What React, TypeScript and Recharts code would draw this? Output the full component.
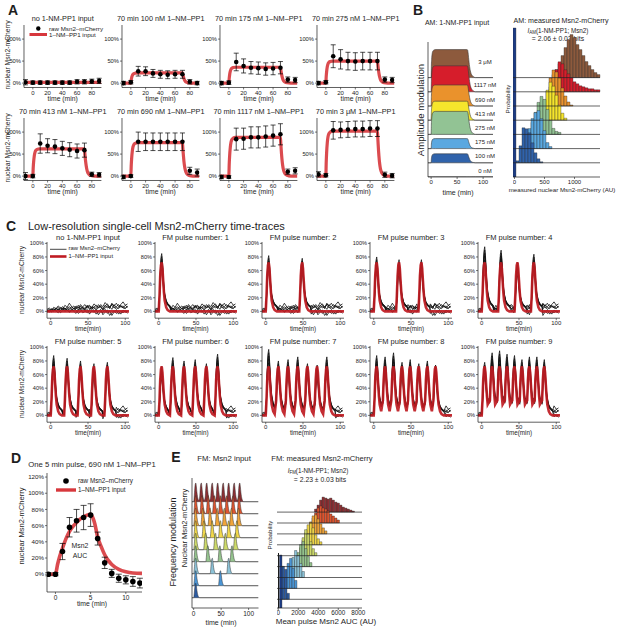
import React from "react"
import {
  ComposedChart,
  Line,
  Area,
  Bar,
  Scatter,
  XAxis,
  YAxis,
  ErrorBar,
  ReferenceLine,
} from "recharts"

const FONT = "'Liberation Sans', Arial, sans-serif"
const INK = "#1b1b1b"
const RED = "#d7373c"
const CRIMSON = "#bf1b22"

// ---------- A: amplitude modulation, population means ----------
const AM_TITLES = [
  "no 1-NM-PP1 input",
  "70 min 100 nM 1–NM–PP1",
  "70 min 175 nM 1–NM–PP1",
  "70 min 275 nM 1–NM–PP1",
  "70 min 413 nM 1–NM–PP1",
  "70 min 690 nM 1–NM–PP1",
  "70 min 1117 nM 1–NM–PP1",
  "70 min 3 μM 1–NM–PP1",
]
const AM_TIMES = [-10, 0, 10, 20, 30, 40, 50, 60, 70, 80, 90]
const AM_MEAN_0 = [2, 1, 1, 1, 1, 1, 1, 3, 3, 4, 5]
const AM_ERR_0 = [6, 4, 4, 4, 4, 4, 4, 5, 5, 5, 6]
const AM_MEAN_100 = [0, 2, 27, 27, 22, 20, 19, 20, 20, 3, 0]
const AM_ERR_100 = [4, 4, 11, 10, 9, 9, 9, 9, 9, 5, 4]
const AM_MEAN_175 = [0, 1, 48, 39, 35, 34, 32, 33, 35, 8, 7]
const AM_ERR_175 = [4, 4, 20, 16, 14, 14, 14, 14, 14, 6, 6]
const AM_MEAN_275 = [0, 2, 61, 54, 50, 49, 50, 50, 50, 8, 7]
const AM_ERR_275 = [4, 4, 26, 22, 20, 20, 20, 20, 20, 6, 6]
const AM_MEAN_413 = [0, 0, 74, 69, 67, 63, 60, 57, 59, 4, 3]
const AM_ERR_413 = [8, 4, 22, 16, 16, 16, 16, 16, 16, 5, 5]
const AM_MEAN_690 = [-2, 0, 78, 78, 78, 78, 78, 78, 78, 12, 8]
const AM_ERR_690 = [4, 3, 22, 20, 20, 20, 20, 20, 20, 8, 8]
const AM_MEAN_1117 = [-2, -2, 84, 85, 88, 88, 90, 92, 95, 10, 12]
const AM_ERR_1117 = [4, 3, 25, 24, 24, 24, 24, 24, 24, 6, 7]
const AM_MEAN_3000 = [4, 2, 104, 105, 106, 107, 107, 108, 108, 3, 1]
const AM_ERR_3000 = [6, 4, 20, 18, 18, 18, 18, 18, 18, 6, 5]
const AM_MEANS = [AM_MEAN_0, AM_MEAN_100, AM_MEAN_175, AM_MEAN_275, AM_MEAN_413, AM_MEAN_690, AM_MEAN_1117, AM_MEAN_3000]
const AM_ERRS = [AM_ERR_0, AM_ERR_100, AM_ERR_175, AM_ERR_275, AM_ERR_413, AM_ERR_690, AM_ERR_1117, AM_ERR_3000]
const AM_LEVELS = [0, 23, 36, 50, 62, 76, 88, 102]
const AM_FLOOR = [1.5, 0, 0, 0, 0, 0, 0, 0]
const AM_PROFILE_T = [-12, 0, 0.5, 1, 2, 3, 4, 6, 9, 70, 70.5, 71, 72, 73, 74, 76, 79, 84, 93]
const AM_PROFILE_F = [0, 0, 0.3, 0.5, 0.75, 0.88, 0.94, 0.98, 1, 1, 0.85, 0.7, 0.45, 0.28, 0.17, 0.07, 0.02, 0, 0]

// ---------- B: AM input shapes and measured histograms ----------
const B_LABELS = ["0 nM", "100 nM", "175 nM", "275 nM", "413 nM", "690 nM", "1117 nM", "3 μM"]
const B_COLORS = ["#1c3c85", "#3063ab", "#5aa8e0", "#92c394", "#f6e52c", "#ea922c", "#d61d2b", "#8d5a3d"]
const B_HEIGHTS = [0, 9, 10, 23, 19, 21, 26, 28]
const B_STEP = 14.2
const B_PROFILE_T = [-6, 0, 0.5, 1, 2, 3, 5, 8, 68, 70, 71, 72, 74, 76, 78, 81, 85, 119]
const B_PROFILE_F = [0, 0, 0.45, 0.65, 0.85, 0.93, 0.98, 1, 1, 0.99, 0.9, 0.72, 0.4, 0.2, 0.1, 0.04, 0, 0]
const B_BINS = Array.from({ length: 29 }, (_, i) => i * 50)
const B_HIST_START = [0, 50, 200, 250, 400, 500, 600, 650]
const B_HIST_0 = [149]
const B_HIST_1 = [2, 17, 35, 34, 30, 20, 10, 4, 1]
const B_HIST_2 = [8, 20, 30, 36, 38, 30, 18, 6, 2]
const B_HIST_3 = [4, 12, 22, 32, 38, 35, 25, 14, 6, 3, 2]
const B_HIST_4 = [3, 10, 20, 30, 38, 34, 25, 15, 7, 2]
const B_HIST_5 = [5, 15, 28, 36, 34, 28, 18, 10, 4, 1]
const B_HIST_6 = [5, 12, 22, 30, 28, 22, 18, 14, 10, 8, 6, 5, 4, 3, 3, 2, 2]
const B_HIST_7 = [3, 8, 14, 22, 30, 38, 43, 40, 33, 28, 22, 16, 12, 8, 5, 3]
const B_HISTS = [B_HIST_0, B_HIST_1, B_HIST_2, B_HIST_3, B_HIST_4, B_HIST_5, B_HIST_6, B_HIST_7]

// ---------- C: FM single-cell traces ----------
const FM_TITLES = [
  "no 1-NM-PP1 input",
  "FM pulse number: 1",
  "FM pulse number: 2",
  "FM pulse number: 3",
  "FM pulse number: 4",
  "FM pulse number: 5",
  "FM pulse number: 6",
  "FM pulse number: 7",
  "FM pulse number: 8",
  "FM pulse number: 9",
]
const FM_PULSES_1 = [0]
const FM_PULSES_2 = [0, 45]
const FM_PULSES_3 = [0, 30, 60]
const FM_PULSES_4 = [0, 22, 44, 66]
const FM_PULSES_5 = [0, 18, 36, 54, 72]
const FM_PULSES_6 = [0, 15, 30, 45, 60, 75]
const FM_PULSES_7 = [0, 13, 26, 39, 52, 65, 78]
const FM_PULSES_8 = [0, 11.3, 22.6, 34, 45, 56.5, 68, 79]
const FM_PULSES_9 = [0, 10, 20, 30, 40, 50, 60, 70, 80]
const FM_PULSES = [[], FM_PULSES_1, FM_PULSES_2, FM_PULSES_3, FM_PULSES_4, FM_PULSES_5, FM_PULSES_6, FM_PULSES_7, FM_PULSES_8, FM_PULSES_9]
const FM_PEAKS_1 = [85]
const FM_PEAKS_2 = [82, 78]
const FM_PEAKS_3 = [80, 76, 76]
const FM_PEAKS_4 = [95, 90, 72, 84]
const FM_PEAKS_5 = [88, 84, 80, 76, 78]
const FM_PEAKS_6 = [72, 85, 80, 82, 76, 90]
const FM_PEAKS_7 = [97, 80, 82, 86, 76, 74, 86]
const FM_PEAKS_8 = [88, 86, 92, 78, 82, 76, 80, 74]
const FM_PEAKS_9 = [78, 92, 95, 90, 88, 82, 86, 86, 82]
const FM_PEAKS = [[], FM_PEAKS_1, FM_PEAKS_2, FM_PEAKS_3, FM_PEAKS_4, FM_PEAKS_5, FM_PEAKS_6, FM_PEAKS_7, FM_PEAKS_8, FM_PEAKS_9]
const PULSE_T = [0, 1, 2, 3, 4, 5, 6, 7, 8, 10, 12, 15]
const RED_PULSE = [0, 22, 52, 68, 72, 63, 45, 28, 16, 6, 2, 0]
const CELL_PULSE = [0.02, 0.27, 0.68, 0.93, 1, 0.86, 0.62, 0.43, 0.31, 0.19, 0.14, 0.1]
const CELL_SCALE = [1, 0.9, 0.8, 0.86, 0.95, 0.74]
const NOISE_T = Array.from({ length: 37 }, (_, i) => -5 + i * 3)
const NOISE_A = [1, 3, 0, 2, 5, 2, 4, 7, 3, 6, 2, 5, 8, 4, 6, 3, 7, 10, 5, 8, 4, 6, 9, 5, 7, 3, 8, 11, 6, 9, 5, 7, 10, 6, 8, 5, 7]
const NOISE_B = [2, 0, 4, 1, 3, 6, 1, 5, 2, 4, 7, 3, 1, 5, 9, 4, 6, 2, 8, 5, 3, 7, 4, 10, 6, 2, 5, 8, 4, 12, 7, 3, 6, 9, 5, 4, 8]
const NOISE_C = [0, 2, -1, 3, 1, -2, 2, 4, 0, 3, -1, 1, 5, 2, -3, 0, 4, 1, -2, 2, 6, 1, -4, 0, 3, -5, -1, 2, -6, -2, 1, -3, 0, -4, 2, -1, 0]
const NOISE_D = [3, 5, 2, 6, 4, 8, 5, 3, 9, 6, 12, 7, 4, 8, 5, 10, 6, 3, 7, 9, 5, 11, 8, 6, 10, 7, 13, 9, 6, 11, 8, 12, 7, 10, 14, 9, 11]
const NOISE_E = [2, 1, 3, 0, 4, 2, 6, 3, 5, 1, 4, 7, 3, 6, 2, 8, 4, 5, 9, 3, 7, 5, 2, 6, 8, 4, 9, 5, 7, 3, 10, 6, 4, 8, 5, 9, 6]
const NOISE_F = [1, -1, 2, 4, 0, 3, -2, 1, 5, 2, -1, 3, 0, -3, 2, 4, -2, 0, 3, -4, 1, -1, 2, -5, 0, -2, 3, -3, 1, -6, -1, 2, -4, 0, -2, 1, -3]
const NOISES = [NOISE_A, NOISE_B, NOISE_C, NOISE_D, NOISE_E, NOISE_F]

// ---------- D: single 5 min pulse ----------
const D_TIMES = [-1, 0, 1, 2, 3, 4, 5, 6, 7, 8, 9, 10, 11, 12]
const D_MEAN = [0, 0, 28, 58, 66, 70, 73, 44, 14, 1, -5, -7, -9, -11]
const D_ERR = [2, 2, 10, 12, 14, 15, 14, 8, 7, 5, 5, 5, 6, 6]
const D_LINE_T = [-1.2, 0, 0.3, 0.6, 1, 1.5, 2, 2.5, 3, 3.5, 4, 4.5, 5, 5.3, 5.6, 6, 6.5, 7, 7.5, 8, 9, 10, 11, 12.3]
const D_LINE = [0, 0, 12, 22, 32, 44, 53, 59, 64, 68, 71, 73, 74, 70, 62, 46, 34, 24, 17, 12, 6, 3, 1.5, 1]

// ---------- E: FM input shapes and measured AUC histograms ----------
const E_COLORS = ["#2c5aa0", "#4a95d5", "#8cc3d8", "#95c48e", "#cdda6a", "#f1d84a", "#f1a53a", "#e0552f", "#8e2f33"]
const E_PEAK_H = [14.5, 15, 15.5, 16, 16.5, 17, 17.5, 18, 18.7]
const E_PULSE_T = [0, 1, 2, 3, 4, 5, 6, 7, 8, 9, 11]
const E_PULSE_F = [0, 0.25, 0.7, 0.95, 1, 0.8, 0.5, 0.28, 0.14, 0.06, 0]
const E_BINS = Array.from({ length: 34 }, (_, i) => i * 250)
const E_HIST_START = [250, 500, 750, 1250, 1750, 2250, 2500, 3000, 3500, 3750]
const E_HIST_0 = [53]
const E_HIST_1 = [33, 30, 6]
const E_HIST_2 = [10, 25, 30, 20, 8]
const E_HIST_3 = [10, 20, 27, 22, 14, 6]
const E_HIST_4 = [6, 14, 22, 25, 18, 10, 4]
const E_HIST_5 = [8, 18, 26, 22, 14, 7, 3]
const E_HIST_6 = [5, 12, 20, 22, 17, 10, 6, 3]
const E_HIST_7 = [5, 12, 18, 19, 15, 10, 6, 3]
const E_HIST_8 = [5, 10, 15, 17, 15, 14, 12, 9, 7, 5, 3]
const E_HIST_9 = [3, 7, 12, 15, 14, 13, 14, 12, 10, 9, 7, 5, 4, 3, 2, 1]
const E_HISTS = [E_HIST_0, E_HIST_1, E_HIST_2, E_HIST_3, E_HIST_4, E_HIST_5, E_HIST_6, E_HIST_7, E_HIST_8, E_HIST_9]

const eBase = (k: number) => 10.3 + 12 * (k - 1)
const eHBase = (k: number) => (k === 0 ? 0 : 8.7 + 10.9 * (k - 1))

// ---------- helpers ----------
const pct = (v: number) => `${v}%`
const dotShape = (r: number) => (p: any) => <circle cx={p.cx} cy={p.cy} r={r} fill="#000" />

const axisStyle = (fs: number) => ({
  axisLine: { stroke: INK, strokeWidth: 0.7 },
  tickLine: { stroke: INK, strokeWidth: 0.6 },
  tickSize: 2,
  tickMargin: 1,
  tick: { fontSize: fs, fill: INK, fontFamily: FONT },
})

function mergeSeries(series: { key: string; pts: [number, any][] }[]) {
  const map = new Map<number, any>()
  series.forEach(({ key, pts }) =>
    pts.forEach(([t, v]) => {
      const k = Math.round(t * 1000) / 1000
      if (!map.has(k)) map.set(k, { t: k })
      map.get(k)[key] = v
    })
  )
  return [...map.values()].sort((a, b) => a.t - b.t)
}

function pulsePoints(starts: number[], offs: number[], vals: number[], scale: (i: number) => number) {
  const pts: [number, number][] = []
  const span = offs[offs.length - 1]
  starts.forEach((p, i) => {
    const next = i + 1 < starts.length ? starts[i + 1] : Infinity
    const prev = i > 0 ? starts[i - 1] : -Infinity
    offs.forEach((o, j) => {
      if (j === 0 && p - prev < span) return
      if (p + o < next) pts.push([p + o, vals[j] * scale(i)])
    })
  })
  return pts
}

function Txt({ x, y, s = 7, a = "c", rot = false, b = false, children }: any) {
  const tx = a === "c" ? "-50%" : a === "r" ? "-100%" : "0"
  return (
    <div
      style={{
        position: "absolute",
        left: x,
        top: y,
        fontSize: s,
        fontWeight: b ? 700 : 400,
        color: "#1e1e1e",
        whiteSpace: "nowrap",
        lineHeight: 1,
        transform: `translate(${tx}, -50%)${rot ? " rotate(-90deg)" : ""}`,
      }}
    >
      {children}
    </div>
  )
}

function Frame({ x, y, w, h, yw, xh, data, extra, children }: any) {
  const mt = 5
  const mr = 5
  return (
    <div style={{ position: "absolute", left: x - yw, top: y - mt }}>
      <ComposedChart
        width={w + yw + mr}
        height={h + xh + mt}
        data={data}
        margin={{ top: mt, right: mr, bottom: 0, left: 0 }}
        {...extra}
      >
        {children}
      </ComposedChart>
    </div>
  )
}

// ---------- panel A ----------
const A_LEFT = [24, 122, 220, 317]
const A_TOP = [25, 118]

function AmPlot({ i }: { i: number }) {
  const x = A_LEFT[i % 4]
  const y = A_TOP[Math.floor(i / 4)]
  const w = 77.4
  const h = 62.5
  const red = AM_PROFILE_T.map((t, j) => ({ t, r: AM_FLOOR[i] + AM_LEVELS[i] * AM_PROFILE_F[j] }))
  const dots = AM_TIMES.map((t, j) => ({ t, m: AM_MEANS[i][j], e: AM_ERRS[i][j] }))
  return (
    <>
      <Txt x={x + w / 2} y={y - 6} s={7.3}>{AM_TITLES[i]}</Txt>
      <Frame x={x} y={y} w={w} h={h} yw={20} xh={10} data={red}>
        <XAxis type="number" dataKey="t" domain={[-12, 93]} ticks={[0, 20, 40, 60, 80]} allowDataOverflow height={10} {...axisStyle(6)} />
        <YAxis type="number" domain={[-10, 132]} ticks={[0, 50, 100]} tickFormatter={pct} allowDataOverflow width={20} {...axisStyle(5.8)} />
        <Line dataKey="r" type="monotone" stroke={RED} strokeWidth={3.2} strokeOpacity={0.9} dot={false} isAnimationActive={false} />
        <Scatter data={dots} dataKey="m" shape={dotShape(2.3)} isAnimationActive={false}>
          <ErrorBar dataKey="e" direction="y" width={2.5} stroke="#000" strokeWidth={0.7} />
        </Scatter>
      </Frame>
      <Txt x={x + w / 2} y={y + h + 11.5} s={6.8}>time (min)</Txt>
    </>
  )
}

// ---------- panel B ----------
function PanelB() {
  const left = B_PROFILE_T.map((t, j) => {
    const row: any = { t }
    B_HEIGHTS.forEach((hh, k) => {
      row["a" + k] = [k * B_STEP, k * B_STEP + hh * B_PROFILE_F[j]]
    })
    return row
  })
  const right = B_BINS.map((bin) => {
    const row: any = { bin }
    B_HISTS.forEach((hist, k) => {
      const j = (bin - B_HIST_START[k]) / 50
      if (j >= 0 && j < hist.length) row["h" + k] = [k * B_STEP, k * B_STEP + hist[j]]
    })
    return row
  })
  return (
    <>
      <Txt x={418} y={10} s={14} b>B</Txt>
      <Txt x={457} y={22} s={7}>AM: 1-NM-PP1 input</Txt>
      <Txt x={561} y={22} s={7.1}>AM: measured Msn2-mCherry</Txt>
      <Txt x={558} y={32} s={6.3}>
        <i>I</i>
        <span style={{ fontSize: "0.7em", verticalAlign: "-0.3em" }}>AM</span>(1-NM-PP1; Msn2)
      </Txt>
      <Txt x={558} y={38.5} s={6.8}>= 2.06 ± 0.03 bits</Txt>
      <Txt x={420.5} y={110} s={9.6} rot>Amplitude modulation</Txt>
      <Txt x={508} y={99} s={6.2} rot>Probability</Txt>
      <Frame x={428} y={42} w={65} h={135} yw={2} xh={10} data={left}>
        <XAxis type="number" dataKey="t" domain={[-6, 119]} ticks={[0, 50, 100]} allowDataOverflow height={10} {...axisStyle(6)} />
        <YAxis type="number" domain={[0, 135]} allowDataOverflow width={2} tick={false} tickLine={false} axisLine={{ stroke: INK, strokeWidth: 0.7 }} />
        {[7, 6, 5, 4, 3, 2, 1, 0].map((k) => (
          <Area key={k} dataKey={"a" + k} type="monotone" fill={B_COLORS[k]} fillOpacity={1} stroke="#3a3a3a" strokeWidth={0.6} isAnimationActive={false} />
        ))}
      </Frame>
      {B_LABELS.map((lab, k) => (
        <Txt key={lab} x={485} y={k === 7 ? 62 : 177 - k * B_STEP - 6.5} s={6}>{lab}</Txt>
      ))}
      <Txt x={458} y={192} s={7}>time (min)</Txt>
      <Frame x={512.5} y={27} w={87} h={150} yw={0} xh={10} data={right} extra={{ barGap: -2.95, barCategoryGap: 0 }}>
        <XAxis type="category" dataKey="bin" ticks={[0, 500, 1000]} interval={0} height={10} {...axisStyle(6)} />
        <YAxis type="number" domain={[0, 150]} allowDataOverflow hide width={0} />
        {[1, 2, 3, 4, 5, 6, 7].map((k) => (
          <ReferenceLine key={"rl" + k} y={k * B_STEP} stroke="#222" strokeWidth={0.7} />
        ))}
        {[7, 6, 5, 4, 3, 2, 1, 0].map((k) => (
          <Bar key={k} dataKey={"h" + k} fill={B_COLORS[k]} stroke="#222" strokeWidth={0.35} barSize={2.95} isAnimationActive={false} />
        ))}
      </Frame>
      <Txt x={562} y={190} s={6.2}>measured nuclear Msn2-mCherry (AU)</Txt>
    </>
  )
}

// ---------- panel C ----------
const C_LEFT = [47, 154.5, 262, 370, 478]
const C_TOP = [241.6, 345.6]

function FmPlot({ i }: { i: number }) {
  const x = C_LEFT[i % 5]
  const y = C_TOP[Math.floor(i / 5)]
  const w = 82
  const h = 76.2
  const starts = FM_PULSES[i]
  const peaks = FM_PEAKS[i]
  const series: { key: string; pts: [number, number][] }[] = []
  NOISES.forEach((noise, j) => {
    const pts: [number, number][] = []
    NOISE_T.forEach((t, n) => {
      if (!starts.some((p) => t > p - 1 && t < p + 15.5)) pts.push([t, noise[n]])
    })
    pts.push(...pulsePoints(starts, PULSE_T, CELL_PULSE, (k) => peaks[k] * CELL_SCALE[j]))
    series.push({ key: "c" + j, pts })
  })
  series.push({
    key: "red",
    pts: [[-5, 0], ...pulsePoints(starts, PULSE_T, RED_PULSE, () => 1), [105, 0]],
  })
  const data = mergeSeries(series)
  return (
    <>
      <Txt x={x + w / 2} y={y - 3.8} s={7.5}>{FM_TITLES[i]}</Txt>
      <Frame x={x} y={y} w={w} h={h} yw={22} xh={10} data={data}>
        <XAxis type="number" dataKey="t" domain={[-5, 105]} ticks={[0, 50, 100]} allowDataOverflow height={10} {...axisStyle(6)} />
        <YAxis type="number" domain={[-10, 102]} ticks={[0, 20, 40, 60, 80, 100]} tickFormatter={pct} allowDataOverflow width={22} {...axisStyle(5.6)} />
        {NOISES.map((_, j) => (
          <Line key={j} dataKey={"c" + j} stroke="#111" strokeWidth={0.8} dot={false} connectNulls isAnimationActive={false} />
        ))}
        <Line dataKey="red" stroke={CRIMSON} strokeWidth={2.6} strokeOpacity={0.92} dot={false} connectNulls isAnimationActive={false} />
      </Frame>
      <Txt x={x + w / 2} y={y + h + 11.5} s={6.3}>time(min)</Txt>
    </>
  )
}

// ---------- panel D ----------
function PanelD() {
  const line = D_LINE_T.map((t, j) => ({ t, r: D_LINE[j] }))
  const dots = D_TIMES.map((t, j) => ({ t, m: D_MEAN[j], e: D_ERR[j] }))
  return (
    <>
      <Txt x={16} y={458} s={14} b>D</Txt>
      <Txt x={92} y={465} s={7.7}>One 5 min pulse, 690 nM 1–NM–PP1</Txt>
      <Txt x={22} y={526} s={7.6} rot>nuclear Msn2-mCherry</Txt>
      <Frame x={47} y={473} w={95} h={119} yw={24} xh={10} data={line}>
        <XAxis type="number" dataKey="t" domain={[-1.2, 12.3]} ticks={[0, 5, 10]} allowDataOverflow height={10} {...axisStyle(6.5)} />
        <YAxis type="number" domain={[-22, 125]} ticks={[0, 20, 40, 60, 80, 100, 120]} tickFormatter={pct} allowDataOverflow width={24} {...axisStyle(6.2)} />
        <Line dataKey="r" type="monotone" stroke={RED} strokeWidth={3.6} strokeOpacity={0.9} dot={false} isAnimationActive={false} />
        <Scatter data={dots} dataKey="m" shape={dotShape(2.8)} isAnimationActive={false}>
          <ErrorBar dataKey="e" direction="y" width={3} stroke="#000" strokeWidth={0.7} />
        </Scatter>
      </Frame>
      <Txt x={80} y={546} s={6.9}>Msn2</Txt>
      <Txt x={80} y={556} s={6.9}>AUC</Txt>
      <Txt x={78} y={481} s={6.3} a="l">raw Msn2–mCherry</Txt>
      <Txt x={78} y={490} s={6.3} a="l">1–NM–PP1 input</Txt>
      <Txt x={92} y={604} s={6.8}>time (min)</Txt>
    </>
  )
}

// ---------- panel E ----------
function PanelE() {
  const series: { key: string; pts: [number, any][] }[] = []
  for (let k = 1; k <= 9; k++) {
    const b = eBase(k)
    const pts: [number, any][] = [[-3, [b, b]]]
    pulsePoints(FM_PULSES[k], E_PULSE_T, E_PULSE_F, () => E_PEAK_H[k - 1]).forEach(([t, v]) => pts.push([t, [b, b + v]]))
    pts.push([118, [b, b]])
    series.push({ key: "e" + k, pts })
  }
  const left = mergeSeries(series)
  const right = E_BINS.map((bin) => {
    const row: any = { bin }
    E_HISTS.forEach((hist, k) => {
      const j = (bin - E_HIST_START[k]) / 250
      if (j >= 0 && j < hist.length) row["h" + k] = [eHBase(k), eHBase(k) + hist[j]]
    })
    return row
  })
  const colorOf = (k: number) => (k === 0 ? "#1c3c85" : E_COLORS[k - 1])
  return (
    <>
      <Txt x={176} y={457} s={14} b>E</Txt>
      <Txt x={224} y={459} s={7.8}>FM: Msn2 input</Txt>
      <Txt x={322} y={459} s={7.6}>FM: measured Msn2-mCherry</Txt>
      <Txt x={318} y={471.5} s={6.3}>
        <i>I</i>
        <span style={{ fontSize: "0.7em", verticalAlign: "-0.3em" }}>FM</span>(1-NM-PP1; Msn2)
      </Txt>
      <Txt x={320} y={480} s={6.8}>= 2.23 ± 0.03 bits</Txt>
      <Txt x={172.5} y={542} s={9} rot>Frequency modulation</Txt>
      <Txt x={185} y={528} s={7.6} rot>Nuclear Msn2-mCherry</Txt>
      <Txt x={270} y={535} s={6.2} rot>Probability</Txt>
      <Frame x={191.7} y={478} w={66.5} h={130} yw={2} xh={10} data={left}>
        <XAxis type="number" dataKey="t" domain={[-3, 118]} ticks={[0, 50, 100]} allowDataOverflow height={10} {...axisStyle(6.5)} />
        <YAxis type="number" domain={[0, 130]} allowDataOverflow width={2} tick={false} tickLine={false} axisLine={{ stroke: INK, strokeWidth: 0.7 }} />
        {[9, 8, 7, 6, 5, 4, 3, 2, 1].map((k) => (
          <Area key={k} dataKey={"e" + k} type="monotone" fill={E_COLORS[k - 1]} fillOpacity={1} stroke="#333" strokeWidth={0.5} connectNulls isAnimationActive={false} />
        ))}
      </Frame>
      <Txt x={221} y={621.5} s={7}>time (min)</Txt>
      <Frame x={277} y={494} w={85} h={114} yw={0} xh={10} data={right} extra={{ barGap: -2.45, barCategoryGap: 0 }}>
        <XAxis type="category" dataKey="bin" ticks={[0, 2000, 4000, 6000, 8000]} interval={0} height={10} {...axisStyle(6.3)} />
        <YAxis type="number" domain={[0, 114]} allowDataOverflow hide width={0} />
        {[1, 2, 3, 4, 5, 6, 7, 8, 9].map((k) => (
          <ReferenceLine key={"rl" + k} y={eHBase(k)} stroke="#222" strokeWidth={0.7} />
        ))}
        {[9, 8, 7, 6, 5, 4, 3, 2, 1, 0].map((k) => (
          <Bar key={k} dataKey={"h" + k} fill={colorOf(k)} stroke="#222" strokeWidth={0.35} barSize={2.45} isAnimationActive={false} />
        ))}
      </Frame>
      <div style={{ position: "absolute", left: 278, top: 553, width: 0.8, height: 55, background: INK }} />
      <Txt x={326} y={621.5} s={8}>Mean pulse Msn2 AUC (AU)</Txt>
    </>
  )
}

export default function App() {
  return (
    <div
      style={{
        position: "absolute",
        left: 0,
        top: 0,
        width: 617,
        height: 628,
        background: "#fff",
        overflow: "hidden",
        fontFamily: FONT,
      }}
    >
      {/* A */}
      <Txt x={13} y={10} s={14} b>A</Txt>
      <Txt x={8} y={55} s={6.8} rot>nuclear Msn2-mCherry</Txt>
      <Txt x={8} y={148} s={6.8} rot>nuclear Msn2-mCherry</Txt>
      {[0, 1, 2, 3, 4, 5, 6, 7].map((i) => (
        <AmPlot key={i} i={i} />
      ))}
      <Txt x={49} y={28.5} s={6.2} a="l">raw Msn2–mCherry</Txt>
      <Txt x={49} y={34.5} s={6.2} a="l">1–NM–PP1 input</Txt>

      <PanelB />

      {/* C */}
      <Txt x={11} y={226} s={14} b>C</Txt>
      <Txt x={28} y={226} s={11} a="l">Low-resolution single-cell Msn2-mCherry time-traces</Txt>
      <Txt x={22} y={280} s={6.7} rot>nuclear Msn2-mCherry</Txt>
      <Txt x={22} y={384} s={6.7} rot>nuclear Msn2-mCherry</Txt>
      {[0, 1, 2, 3, 4, 5, 6, 7, 8, 9].map((i) => (
        <FmPlot key={i} i={i} />
      ))}
      <Txt x={68.5} y={249.3} s={5.9} a="l">raw Msn2–mCherry</Txt>
      <Txt x={68.5} y={256.5} s={5.9} a="l">1–NM–PP1 input</Txt>

      <PanelD />
      <PanelE />

      {/* legend glyphs */}
      <svg style={{ position: "absolute", left: 0, top: 0 }} width={617} height={628}>
        <circle cx={38.3} cy={28.5} r={2.2} fill="#000" />
        <line x1={29.5} x2={47} y1={34.5} y2={34.5} stroke={RED} strokeWidth={3} />
        <line x1={50} x2={66.5} y1={249.3} y2={249.3} stroke="#333" strokeWidth={0.9} />
        <line x1={50} x2={66.5} y1={256.5} y2={256.5} stroke={CRIMSON} strokeWidth={2.6} />
        <circle cx={66} cy={481} r={2.8} fill="#000" />
        <line x1={56} x2={76} y1={490} y2={490} stroke={RED} strokeWidth={3.4} />
      </svg>
    </div>
  )
}
